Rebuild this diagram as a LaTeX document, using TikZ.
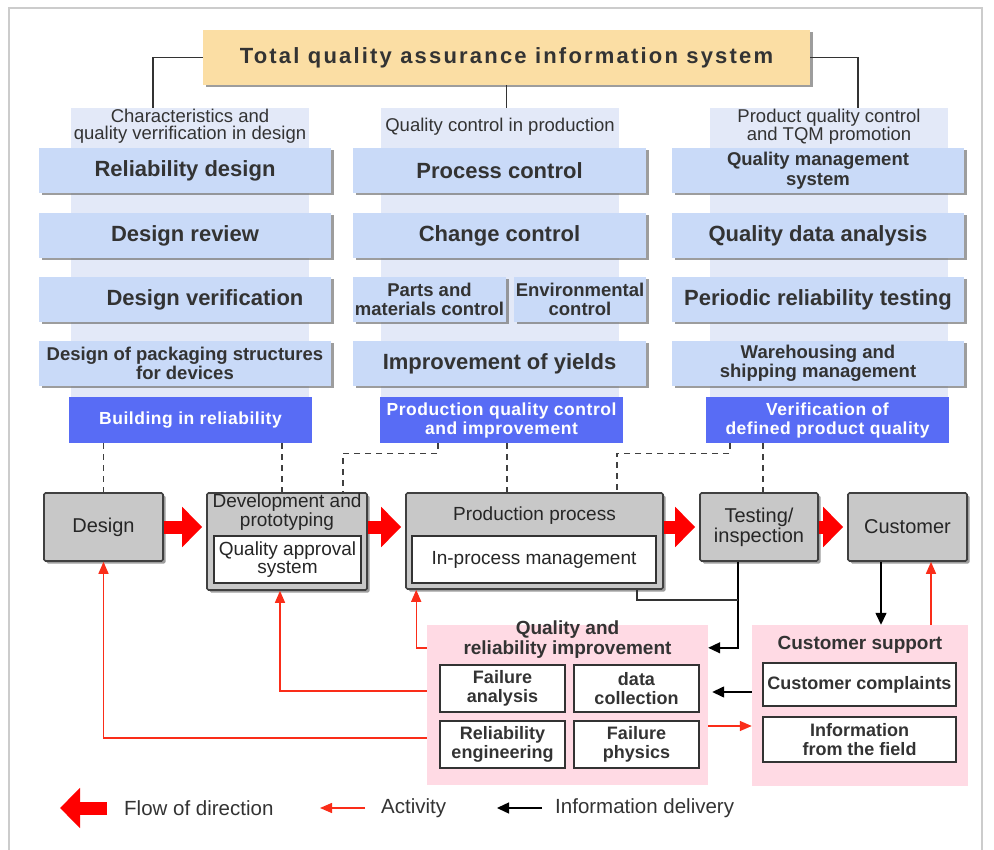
\documentclass[tikz,border=0pt]{standalone}
\usepackage{fontspec}
\setmainfont{Liberation Sans}
\newfontfamily\headfont[LetterSpace=10]{Liberation Sans}
\newfontfamily\tagfont[LetterSpace=3]{Liberation Sans}
\usepackage{tikz}
\usetikzlibrary{positioning,arrows.meta,shadows}
\definecolor{qaorange}{RGB}{251,222,164}
\definecolor{qaband}{RGB}{227,233,248}
\definecolor{qablue}{RGB}{201,218,248}
\definecolor{qadeep}{RGB}{88,108,245}
\definecolor{qagray}{RGB}{200,200,200}
\definecolor{qapink}{RGB}{255,218,228}
\definecolor{qared}{RGB}{250,45,25}
\definecolor{qatext}{RGB}{51,51,51}

\begin{document}
\begin{tikzpicture}[x=1pt, y=-1pt,
  boxshadow/.style={drop shadow={shadow xshift=2.5pt, shadow yshift=-2.5pt, fill=black!55, opacity=0.7}},
  hdr/.style={fill=qaorange, boxshadow, minimum width=607pt, minimum height=55pt, text=qatext,
    font=\headfont\bfseries\fontsize{22}{22}\selectfont},
  band/.style={fill=qaband, inner sep=0pt, minimum width=238pt, minimum height=289pt},
  colhead/.style={text=qatext, align=center, inner sep=0pt, minimum height=37pt,
    font=\fontsize{18.5}{17}\selectfont},
  item/.style={fill=qablue, boxshadow, minimum height=45pt, inner sep=1pt, text=qatext, align=center,
    font=\bfseries\fontsize{22}{22}\selectfont},
  itemsm/.style={item, font=\bfseries\fontsize{18.5}{19.5}\selectfont},
  tag/.style={fill=qadeep, minimum width=243pt, minimum height=46pt, inner sep=1pt, text=white, align=center,
    font=\tagfont\bfseries\fontsize{17.5}{19}\selectfont},
  stage/.style={fill=qagray, draw=black!75, line width=1.6pt, rounded corners=1.5pt, boxshadow,
    text=black!85, align=center, inner sep=1pt, font=\fontsize{20}{20}\selectfont},
  stagehead/.style={text=black!85, align=center, inner sep=0pt, font=\fontsize{19}{16}\selectfont},
  inbox/.style={fill=white, draw=black!80, line width=1.2pt, text=black!85, align=center, inner sep=0pt,
    font=\fontsize{19}{16}\selectfont},
  panel/.style={fill=qapink, inner sep=0pt},
  panhead/.style={text=qatext, align=center, inner sep=0pt, font=\bfseries\fontsize{19}{20}\selectfont},
  cell/.style={fill=white, draw=black!80, line width=1.3pt, text=qatext, align=center, inner sep=0pt,
    font=\bfseries\fontsize{18}{19}\selectfont},
  legtext/.style={anchor=west, inner sep=0pt, text=qatext, font=\fontsize{20.5}{20}\selectfont},
  link/.style={draw=black!80, line width=1.6pt},
  dashlink/.style={draw=black!75, line width=1.4pt, dash pattern=on 6pt off 5pt},
  flow/.style={draw=red, line width=13pt, -{Triangle[length=20pt,width=39pt]}, shorten >=4pt},
  act/.style={draw=qared, line width=1.4pt, -{Triangle[length=12pt,width=10pt]}},
  info/.style={draw=black, line width=1.4pt, -{Triangle[length=12pt,width=11pt]}}
]
\useasboundingbox (0,0) rectangle (994,850);
\draw[black!20, line width=1.5pt] (9,850) -- (9,8) -- (982,8) -- (982,850);

% system header and the three columns
\node[band] (bandL) at (190,252.5) {};
\node[band] (bandM) at (500,252.5) {};
\node[band] (bandR) at (829,252.5) {};
\node[hdr] (top) at (506.5,57.5) {Total quality assurance information system};
\node[colhead] (colL) at (190,126.5) {Characteristics and\\quality verrification in design};
\node[colhead] (colM) at (500,126.5) {Quality control in production};
\node[colhead] (colR) at (829,126.5) {Product quality control\\and TQM promotion};
\draw[link] (top.west) -| ([xshift=-37pt]colL.north);
\draw[link] (top.south) -- (top.south |- colM.north);
\draw[link] (top.east) -| ([xshift=29pt]colR.north);

\node[item, minimum width=292pt] (reldes) at (185,170.5) {Reliability design};
\node[item, minimum width=292pt] (desrev) at (185,235.5) {Design review};
\node[item, minimum width=292pt] (desver) at (185,299.5) {\hspace*{40pt}Design verification};
\node[itemsm, minimum width=292pt] (despkg) at (185,363.5) {Design of packaging structures\\for devices};

\node[item, minimum width=293pt] (proc) at (499.5,170.5) {Process control};
\node[item, minimum width=293pt] (chg) at (499.5,235.5) {Change control};
\node[itemsm, minimum width=153pt] (parts) at (429.5,299.5) {Parts and\\materials control};
\node[itemsm, minimum width=132pt] (env) at (580,299.5) {Environmental\\control};
\node[item, minimum width=293pt] (yield) at (499.5,363.5) {Improvement of yields};

\node[itemsm, minimum width=292pt] (qms) at (818,170.5) {Quality management\\system};
\node[item, minimum width=292pt] (qda) at (818,235.5) {Quality data analysis};
\node[item, minimum width=292pt] (prt) at (818,299.5) {Periodic reliability testing};
\node[itemsm, minimum width=292pt] (whs) at (818,363.5) {Warehousing and\\shipping management};

\node[tag] (tagL) at (190.5,420) {Building in reliability};
\node[tag] (tagM) at (501.5,420) {Production quality control\\and improvement};
\node[tag] (tagR) at (827.5,420) {Verification of\\defined product quality};

% process flow
\node[stage, minimum width=119pt, minimum height=68pt] (design) at (103.5,527) {Design};
\node[stage, minimum width=160pt, minimum height=97pt] (dev) at (287,541.5) {};
\node[stagehead] (devT) at (287,512) {Development and\\prototyping};
\node[inbox, minimum width=147pt, minimum height=47pt] (qas) at (287.5,559.5) {Quality approval\\system};
\node[stage, minimum width=257pt, minimum height=96pt] (prod) at (534.5,541) {};
\node[stagehead] (prodT) at (534.5,516) {Production process};
\node[inbox, minimum width=244pt, minimum height=47pt] (ipm) at (534,559.5) {In-process management};
\node[stage, minimum width=118pt, minimum height=68pt] (test) at (759,527) {Testing/\\inspection};
\node[stage, minimum width=119pt, minimum height=68pt] (cust) at (907.5,527) {Customer};

\draw[flow] (design.east) -- (design.east -| dev.west);
\draw[flow] (dev.east |- design.east) -- (prod.west |- design.east);
\draw[flow] (prod.east |- design.east) -- (test.west);
\draw[flow] (test.east) -- (cust.west);

\draw[dashlink] (design.north |- tagL.south) -- (design.north);
\draw[dashlink] ([xshift=-5pt]dev.north |- tagL.south) -- ([xshift=-5pt]dev.north);
\draw[dashlink] ([xshift=-63.5pt]tagM.south) -- ++(0,10) -| ([xshift=56pt]dev.north);
\draw[dashlink] ([xshift=5.5pt]tagM.south) -- ([xshift=5.5pt]tagM.south |- prod.north);
\draw[dashlink] ([xshift=-97.5pt]tagR.south) -- ++(0,10) -| ([xshift=82.5pt]prod.north);
\draw[dashlink] ([xshift=4pt]test.north |- tagR.south) -- ([xshift=4pt]test.north);

% improvement and customer support
\node[panel, minimum width=281pt, minimum height=160pt] (qri) at (567.5,705) {};
\node[panhead] (qriT) at (567.5,640) {Quality and\\reliability improvement};
\node[cell, minimum width=125pt, minimum height=47pt] (fa) at (502.5,688.5) {Failure\\analysis};
\node[cell, minimum width=125pt, minimum height=47pt] (dc) at (636.5,688.5) {data\\collection};
\node[cell, minimum width=125pt, minimum height=47pt] (re) at (502.5,744.5) {Reliability\\engineering};
\node[cell, minimum width=125pt, minimum height=47pt] (fp) at (636.5,744.5) {Failure\\physics};

\node[panel, minimum width=216pt, minimum height=161pt] (csup) at (860,705.5) {};
\node[panhead] (csupT) at (860,645) {Customer support};
\node[cell, minimum width=193pt, minimum height=43pt] (cc) at (859.5,684.5) {Customer complaints};
\node[cell, minimum width=193pt, minimum height=45pt] (iff) at (859.5,739.5) {Information\\from the field};

\draw[info] ([xshift=-21pt]test.south) |- ([yshift=-23pt]qri.north east);
\draw[link, line width=1.4pt] ([xshift=-27pt]prod.south east) |- ([xshift=-21pt,yshift=-38pt]test.south);
\draw[info] ([xshift=-26.5pt]cust.south) -- ([xshift=-26.5pt]cust.south |- csup.north);
\draw[act] ([xshift=71pt]csup.north) -- ([xshift=71pt]csup.north |- cust.south);
\draw[info] (csup.west |- 0,692) -- ([xshift=4pt]qri.east |- 0,692);
\draw[act] (qri.east |- 0,726) -- (csup.west |- 0,726);
\draw[act] (qri.west |- 0,648) -| ([xshift=11pt]prod.south west);
\draw[act] (qri.west |- 0,691) -| ([xshift=-7pt]dev.south);
\draw[act] (qri.west |- 0,738) -| (design.south);

% legend
\node[legtext] (lflow) at (124,808) {Flow of direction};
\node[legtext] (lact) at (381,808) {Activity};
\node[legtext] (linfo) at (555,808) {Information delivery};
\draw[flow, shorten >=0pt] ([xshift=-17pt]lflow.west) -- ++(-47,0);
\draw[act] ([xshift=-16pt]lact.west) -- ++(-45,0);
\draw[info] ([xshift=-13pt]linfo.west) -- ++(-45,0);
\end{tikzpicture}
\end{document}
